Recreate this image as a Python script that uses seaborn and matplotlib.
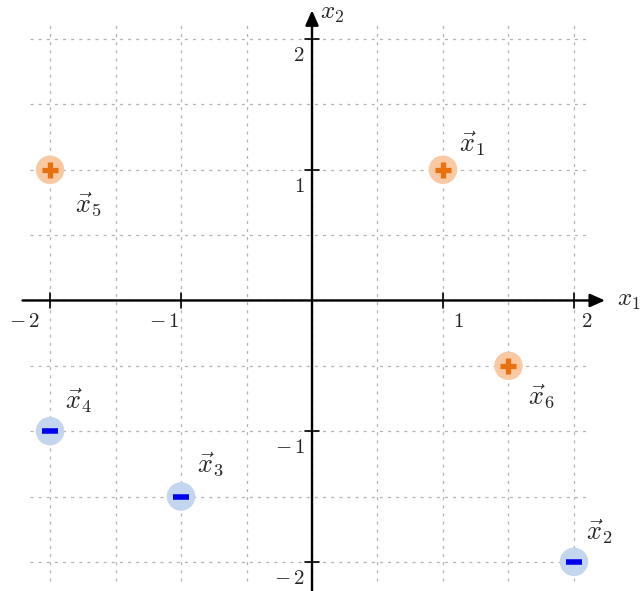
import matplotlib
matplotlib.use("Agg")
import matplotlib.pyplot as plt
import seaborn as sns
import numpy as np
import pandas as pd

# points of the toy dataset
names = ["1", "2", "3", "4", "5", "6"]
x1_vals = [1.0, 2.0, -1.0, -2.0, -2.0, 1.5]
x2_vals = [1.0, -2.0, -1.5, -1.0, 1.0, -0.5]
labels = ["+", "-", "-", "-", "+", "+"]

xticks = [-2, -1, 1, 2]
yticks = [-2, -1, 1, 2]

df = pd.DataFrame({"x1": x1_vals, "x2": x2_vals, "cls": labels, "name": names})

sns.set_style("white")
plt.rcParams["mathtext.fontset"] = "cm"

fig = plt.figure(figsize=(6.43, 5.91), dpi=100)
ax = fig.add_axes([0, 0, 1, 1])
ax.set_xlim(-2.382, 2.527)
ax.set_ylim(-2.223, 2.299)
ax.axis("off")

# dashed grid every 0.5
grid = np.arange(-2, 2.01, 0.5)
ax.vlines(grid, -2.15, 2.12, colors="#b5b5b5", linestyles=(0, (2.5, 4)), linewidth=0.9, zorder=0)
ax.hlines(grid, -2.15, 2.12, colors="#b5b5b5", linestyles=(0, (2.5, 4)), linewidth=0.9, zorder=0)

# axes with arrows
arrow = dict(arrowstyle="-|>,head_length=0.9,head_width=0.4", color="black", lw=1.7, shrinkA=0, shrinkB=0)
ax.annotate("", xy=(2.237, 0), xytext=(-2.21, 0), arrowprops=arrow, zorder=2)
ax.annotate("", xy=(0, 2.22), xytext=(0, -2.24), arrowprops=arrow, zorder=2)
ax.text(2.33, 0, r"$x_1$", fontsize=18, va="center", ha="left")
ax.text(0.06, 2.2, r"$x_2$", fontsize=18, va="center", ha="left")

# ticks
for t in xticks:
    ax.plot([t, t], [-0.055, 0.055], color="black", lw=1.2, zorder=2)
for t in yticks:
    ax.plot([-0.055, 0.055], [t, t], color="black", lw=1.2, zorder=2)

xoff = {-2: -0.2, -1: -0.13, 1: 0.12, 2: 0.1}
for t in xticks:
    txt = rf"$-\,{abs(t)}$" if t < 0 else rf"${t}$"
    ax.text(t + xoff[t], -0.08, txt, fontsize=15, ha="center", va="top")
for t in yticks:
    txt = rf"$-\,{abs(t)}$" if t < 0 else rf"${t}$"
    ax.text(-0.055, t - 0.045, txt, fontsize=15, ha="right", va="top")

# points: light discs, then the class sign on top
palette = {"+": "#f9c9a3", "-": "#c3d5ef"}
sns.scatterplot(data=df, x="x1", y="x2", hue="cls", palette=palette, s=420,
                edgecolor="none", legend=False, ax=ax, zorder=3)
pos = df[df["cls"] == "+"]
neg = df[df["cls"] == "-"]
sns.scatterplot(data=pos, x="x1", y="x2", marker="+", s=140, color="#e8700f",
                linewidth=3.8, legend=False, ax=ax, zorder=4)
sns.scatterplot(data=neg, x="x1", y="x2", marker="_", s=140, color="#0000ee",
                linewidth=4.0, legend=False, ax=ax, zorder=4)

# point labels
lab_off = {"1": (0.22, 0.2), "2": (0.19, 0.23), "3": (0.22, 0.24), "4": (0.22, 0.23),
           "5": (0.29, -0.27), "6": (0.25, -0.24)}
for _, r in df.iterrows():
    dx, dy = lab_off[r["name"]]
    ax.text(r["x1"] + dx, r["x2"] + dy, rf"$\vec{{x}}_{r['name']}$", fontsize=19,
            ha="center", va="center")

ax.set_xlabel("")
ax.set_ylabel("")
fig.savefig("out.png", dpi=100)
